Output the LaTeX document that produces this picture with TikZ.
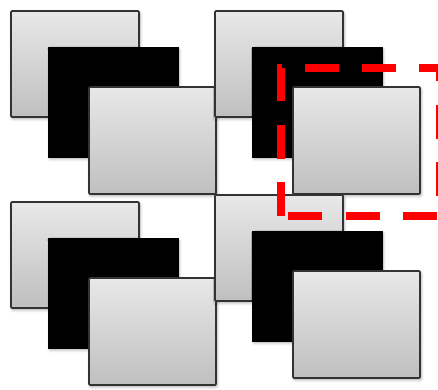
\documentclass[tikz,border=0pt]{standalone}
\usetikzlibrary{shadows.blur}
\tikzset{
  card/.style={draw=black!80, line width=0.9pt, rounded corners=0.6pt,
    top color=gray!18, bottom color=gray!50,
    blur shadow={shadow xshift=0.6pt, shadow yshift=-1pt, shadow blur radius=1.6pt, shadow opacity=35}},
  darkcard/.style={draw=black, fill=black, line width=0.9pt,
    blur shadow={shadow xshift=0.6pt, shadow yshift=-1pt, shadow blur radius=1.6pt, shadow opacity=35}},
  focusframe/.style={draw=red, line width=4.5pt, dash pattern=on 19.3pt off 13.3pt}
}
\begin{document}
\begin{tikzpicture}[x=0.02cm, y=-0.02cm]
    \useasboundingbox (0,0) rectangle (438,389);
    \clip (0,0) rectangle (438,389);
    \foreach \gx/\gy in {11/11, 215/11, 11/202, 215/195}
    {
      \draw[card] (\gx,\gy) rectangle ++(128,106);
      \draw[darkcard] (\gx+38,\gy+37) rectangle ++(129,109);
      \draw[card] (\gx+78,\gy+76) rectangle ++(127,107);
    }
    \draw[focusframe] (281,216) -- (281,68) -- (440,68) -- (440,216) -- cycle;
\end{tikzpicture}
\end{document}
